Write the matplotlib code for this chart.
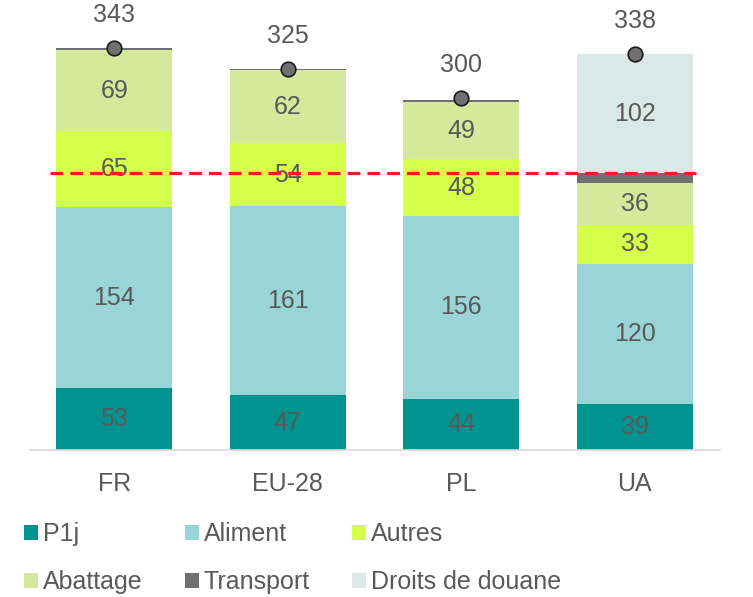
import numpy as np
import matplotlib
matplotlib.use("Agg")
import matplotlib.pyplot as plt
from matplotlib.patches import Patch

plt.rcParams['font.family'] = ['Liberation Sans', 'DejaVu Sans']

# data
countries = ['FR', 'EU-28', 'PL', 'UA']
p1j = [53, 47, 44, 39]
aliment = [154, 161, 156, 120]
autres = [65, 54, 48, 33]
abattage = [69, 62, 49, 36]
transport = [2, 1.5, 2, 8]
droits = [0, 0, 0, 102]
totals = [343, 325, 300, 338]
ref_level = 236

series = [
    ('P1j', p1j, '#009490'),
    ('Aliment', aliment, '#99d5d6'),
    ('Autres', autres, '#d4ff4a'),
    ('Abattage', abattage, '#d6e89c'),
    ('Transport', transport, '#707070'),
    ('Droits de douane', droits, '#d9e9e6'),
]

txt_col = '#595959'
fs = 18

fig = plt.figure(figsize=(7.53, 5.97), dpi=100)
ax = fig.add_axes([0.04, 0.246, 0.916, 0.754])

x = np.arange(len(countries))
width = 0.67
bottom = np.zeros(len(countries))
handles = []
for name, vals, col in series:
    vals = np.array(vals, dtype=float)
    ax.bar(x, vals, width, bottom=bottom, color=col, edgecolor='none', zorder=2)
    if name != 'Transport':
        for i, v in enumerate(vals):
            if v > 0:
                ax.text(x[i], bottom[i] + v / 2, f'{int(v)}', ha='center', va='center',
                        fontsize=fs, color=txt_col, zorder=4)
    bottom += vals
    handles.append(Patch(facecolor=col, edgecolor='none', label=name))

# totals
ax.plot(x, totals, 'o', markersize=10.5, markerfacecolor='#707070',
        markeredgecolor='#1a1a1a', markeredgewidth=1.2, linestyle='none', zorder=5)
for i, t in enumerate(totals):
    ax.annotate(f'{t}', (x[i], t), xytext=(0, 24), textcoords='offset points',
                ha='center', va='center', fontsize=fs, color=txt_col)

# reference line
ax.plot([-0.37, 3.35], [ref_level, ref_level], color='#ee1c2e', linestyle='--',
        linewidth=2.3, dashes=(4, 2.2), zorder=6)

ax.set_xlim(-0.484, 3.49)
ax.set_ylim(0, 384)
ax.set_xticks(x)
ax.set_xticklabels(countries, fontsize=fs, color=txt_col)
ax.tick_params(axis='x', length=0, pad=16)
ax.set_yticks([])
for s in ['top', 'right', 'left']:
    ax.spines[s].set_visible(False)
ax.spines['bottom'].set_color('#d9d9d9')
ax.spines['bottom'].set_linewidth(1.2)

# legend (column-major ordering)
order = [0, 3, 1, 4, 2, 5]
leg = fig.legend([handles[i] for i in order], [handles[i].get_label() for i in order],
                 ncol=3, loc='lower left', bbox_to_anchor=(0.002, -0.033), frameon=False,
                 fontsize=fs, handlelength=0.55, handleheight=0.55, handletextpad=0.2,
                 columnspacing=1.7, labelspacing=0.95)
for t in leg.get_texts():
    t.set_color(txt_col)

fig.savefig('out.png', dpi=100)
